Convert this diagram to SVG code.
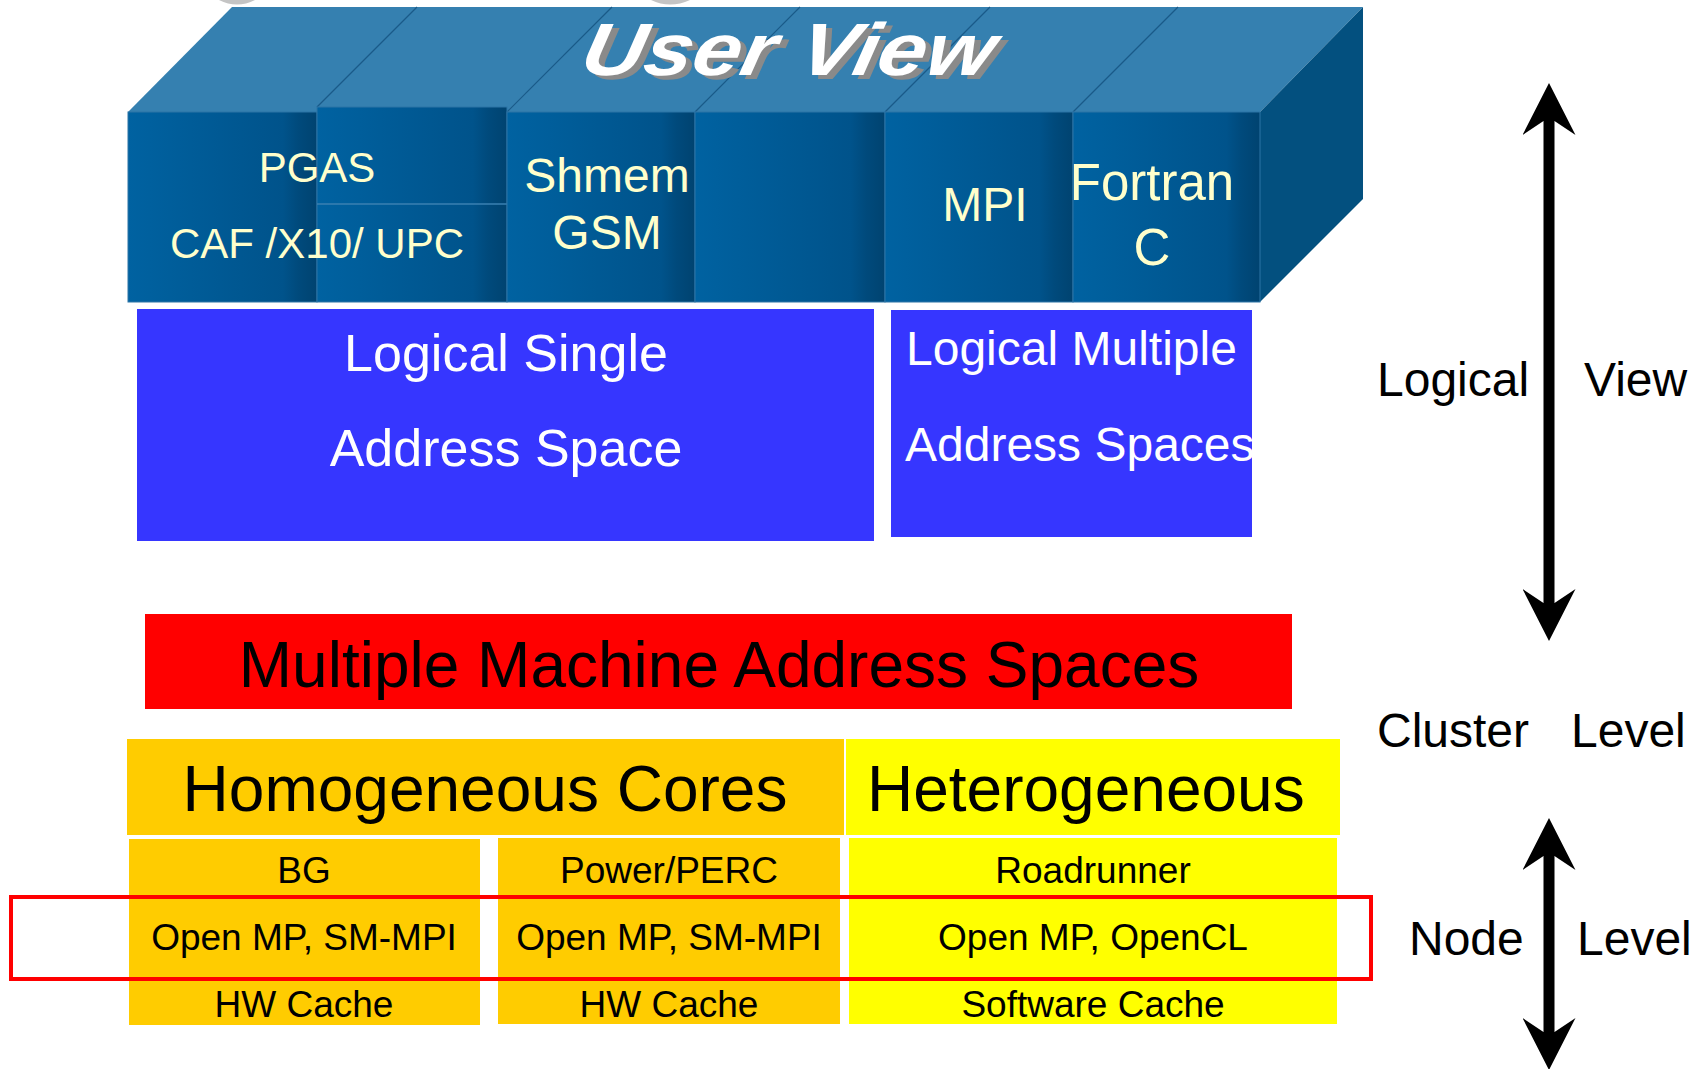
<svg xmlns="http://www.w3.org/2000/svg" width="1695" height="1069" viewBox="0 0 1695 1069">
  <defs>
    <linearGradient id="colGrad" x1="0" y1="0" x2="1" y2="0">
      <stop offset="0" stop-color="#0062A1"/>
      <stop offset="0.82" stop-color="#00538B"/>
      <stop offset="0.9" stop-color="#004A7C"/>
      <stop offset="1" stop-color="#004370"/>
    </linearGradient>
    <marker id="ah" viewBox="0 0 52 53" refX="32" refY="26.5" markerWidth="52" markerHeight="53" markerUnits="userSpaceOnUse" orient="auto-start-reverse">
      <path d="M52,26.5 L0,53 L14,32 L14,21 L0,0 Z" fill="#000"/>
    </marker>
    <style>
      .col { fill: url(#colGrad); stroke: #2C74A6; stroke-width: 1; }
      .yt { font-family: "Liberation Sans", Arial, sans-serif; fill: #FFFFCC; text-anchor: middle; }
      .wt { font-family: "Liberation Sans", Arial, sans-serif; fill: #FFFFFF; }
      .bk { font-family: "Liberation Sans", Arial, sans-serif; fill: #000000; }
      .mid { text-anchor: middle; }
      .diag { stroke: #1A5A88; stroke-width: 1.2; fill: none; }
      .small { font-size: 37px; }
      .side { font-size: 48px; }
      .arrow { stroke: #000; stroke-width: 11; fill: none; marker-start: url(#ah); marker-end: url(#ah); }
    </style>
  </defs>
  <rect x="0" y="0" width="1695" height="1069" fill="#FFFFFF"/>

  <!-- grey remnants at the top edge -->
  <path d="M219,0 Q237,9 255,0 Z" fill="#C4C4C4"/>
  <path d="M651,0 Q670,9 690,0 Z" fill="#C4C4C4"/>

  <!-- User View block -->
  <g id="user-view">
    <polygon points="128,112 232,7 1363,7 1260,112" fill="#3580B0"/>
    <polygon points="1260,112 1363,7 1363,199 1260,302" fill="#03507F"/>
    <line class="diag" x1="317" y1="107" x2="417" y2="7"/>
    <line class="diag" x1="507" y1="112" x2="612" y2="7"/>
    <line class="diag" x1="695" y1="112" x2="800" y2="7"/>
    <line class="diag" x1="885" y1="112" x2="990" y2="7"/>
    <line class="diag" x1="1073" y1="112" x2="1178" y2="7"/>
    <g transform="translate(584,79) skewX(-12)">
      <text x="0" y="0" font-family="Liberation Sans, Arial, sans-serif" font-weight="bold" font-style="italic" font-size="74" fill="#8A8A8A" textLength="412" lengthAdjust="spacingAndGlyphs">User View</text>
    </g>
    <g transform="translate(578,75) skewX(-12)">
      <text x="0" y="0" font-family="Liberation Sans, Arial, sans-serif" font-weight="bold" font-style="italic" font-size="74" fill="#FFFFFF" textLength="412" lengthAdjust="spacingAndGlyphs">User View</text>
    </g>
  </g>

  <g id="col-pgas">
    <rect class="col" x="128" y="112" width="189" height="190"/>
    <rect class="col" x="317" y="107" width="190" height="195"/>
    <line x1="317" y1="204" x2="507" y2="204" stroke="#3A80B2" stroke-width="1.5"/>
    <text class="yt" x="317" y="182" font-size="42">PGAS</text>
    <text class="yt" x="317" y="258" font-size="42">CAF /X10/ UPC</text>
  </g>
  <g id="col-shmem">
    <rect class="col" x="507" y="112" width="188" height="190"/>
    <text class="yt" x="607" y="192" font-size="48">Shmem</text>
    <text class="yt" x="607" y="249" font-size="48">GSM</text>
  </g>
  <g id="col-empty">
    <rect class="col" x="695" y="112" width="190" height="190"/>
  </g>
  <g id="col-mpi">
    <rect class="col" x="885" y="112" width="188" height="190"/>
    <text class="yt" x="985" y="221" font-size="48">MPI</text>
  </g>
  <g id="col-fortran">
    <rect class="col" x="1073" y="112" width="187" height="190"/>
    <text class="yt" x="1152" y="200" font-size="51">Fortran</text>
    <text class="yt" x="1152" y="265" font-size="51">C</text>
  </g>

  <!-- Logical address spaces -->
  <g id="logical-single">
    <rect x="137" y="309" width="737" height="232" fill="#3636FF"/>
    <text class="wt mid" x="506" y="371" font-size="52">Logical Single</text>
    <text class="wt mid" x="506" y="466" font-size="52">Address Space</text>
  </g>
  <g id="logical-multiple">
    <rect x="891" y="310" width="361" height="227" fill="#3636FF"/>
    <text class="wt" x="906" y="365" font-size="48">Logical Multiple</text>
    <text class="wt" x="905" y="461" font-size="48">Address Spaces</text>
  </g>

  <g id="machine-spaces">
    <rect x="145" y="614" width="1147" height="95" fill="#FF0000"/>
    <text class="bk mid" x="719" y="687" font-size="64">Multiple Machine Address Spaces</text>
  </g>

  <g id="homogeneous">
    <rect x="127" y="739" width="717" height="96" fill="#FFCC00"/>
    <text class="bk mid" x="485" y="811" font-size="64">Homogeneous Cores</text>
  </g>
  <g id="heterogeneous">
    <rect x="846" y="739" width="494" height="96" fill="#FFFF00"/>
    <text class="bk" x="867" y="811" font-size="64">Heterogeneous</text>
  </g>

  <g id="bg">
    <rect x="129" y="839" width="351" height="186" fill="#FFCC00"/>
    <text class="bk mid small" x="304" y="883">BG</text>
    <text class="bk mid small" x="304" y="950">Open MP, SM-MPI</text>
    <text class="bk mid small" x="304" y="1017">HW Cache</text>
  </g>
  <g id="power">
    <rect x="498" y="838" width="342" height="186" fill="#FFCC00"/>
    <text class="bk mid small" x="669" y="883">Power/PERC</text>
    <text class="bk mid small" x="669" y="950">Open MP, SM-MPI</text>
    <text class="bk mid small" x="669" y="1017">HW Cache</text>
  </g>
  <g id="roadrunner">
    <rect x="849" y="838" width="488" height="186" fill="#FFFF00"/>
    <text class="bk mid small" x="1093" y="883">Roadrunner</text>
    <text class="bk mid small" x="1093" y="950">Open MP, OpenCL</text>
    <text class="bk mid small" x="1093" y="1017">Software Cache</text>
  </g>

  <g id="highlight">
    <rect x="11" y="897" width="1360" height="82" fill="none" stroke="#FF0000" stroke-width="4"/>
  </g>

  <!-- connectors -->
  <g id="connectors">
    <line class="arrow" x1="1549" y1="103" x2="1549" y2="621"/>
    <line class="arrow" x1="1549" y1="838" x2="1549" y2="1050"/>
  </g>

  <g id="side-labels">
    <text class="bk side" x="1377" y="396">Logical</text>
    <text class="bk side" x="1584" y="396">View</text>
    <text class="bk side" x="1377" y="747">Cluster</text>
    <text class="bk side" x="1571" y="747">Level</text>
    <text class="bk side" x="1409" y="955">Node</text>
    <text class="bk side" x="1577" y="955">Level</text>
  </g>
</svg>
